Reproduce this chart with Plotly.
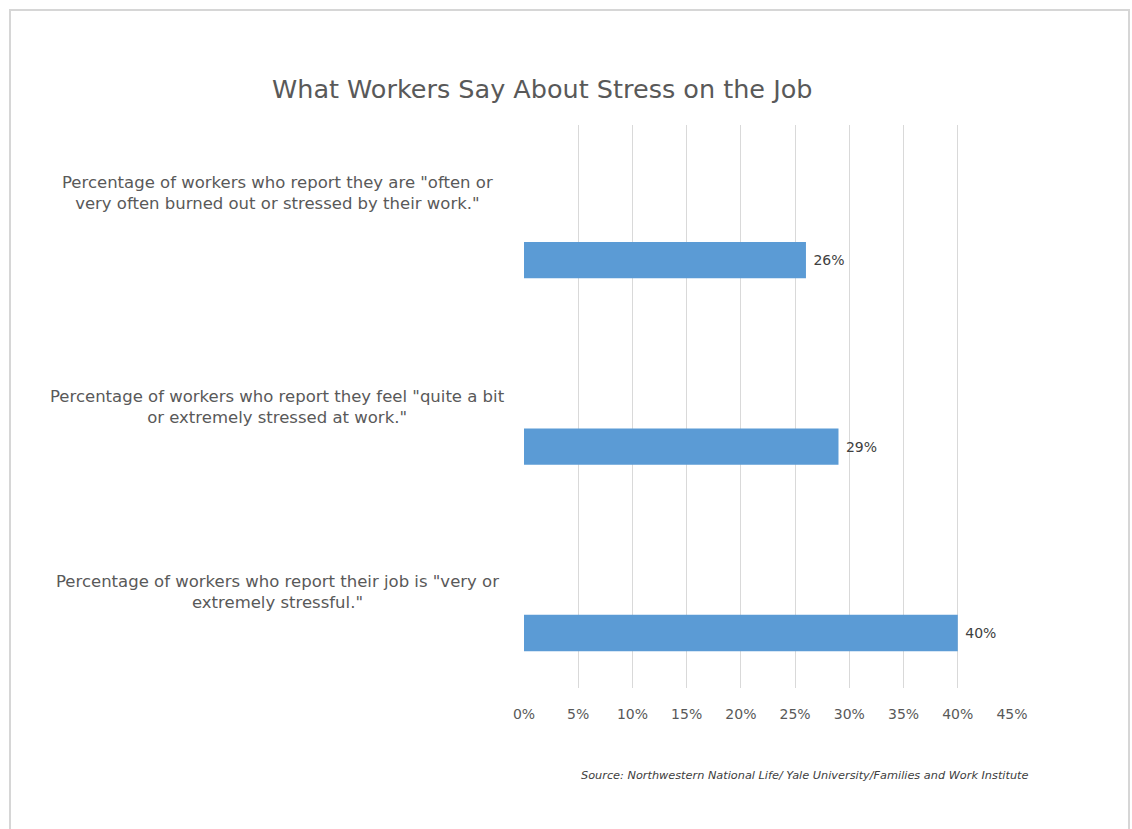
import plotly.graph_objects as go

# ---- data ----
categories = [
    "Percentage of workers who report their job is \"very or<br>extremely stressful.\"",
    "Percentage of workers who report they feel \"quite a bit<br>or extremely stressed at work.\"",
    "Percentage of workers who report they are \"often or<br>very often burned out or stressed by their work.\"",
]
values = [40, 29, 26]
tick_vals = [0, 5, 10, 15, 20, 25, 30, 35, 40, 45]
tick_text = [f"{v}%" for v in tick_vals]
title_text = "What Workers Say About Stress on the Job"
source_text = "Source: Northwestern National Life/ Yale University/Families and Work Institute"

# ---- layout geometry (pixels) ----
W, H = 1132, 829
L, R, T, B = 524, 1012, 125, 688
label_shift = [41, 40, 67]  # px above bar centre for each category label
FONT = "DejaVu Sans"

def px_x(x):
    return (x - L) / (R - L)

def px_y(y):
    return (B - y) / (B - T)

ypos = list(range(len(categories)))

fig = go.Figure()
fig.add_trace(go.Bar(
    x=values, y=ypos, orientation="h",
    marker=dict(color="#5b9bd5", line=dict(width=0)),
    width=0.195,
    text=[f"\u00a0{v}%" for v in values], textposition="outside",
    textfont=dict(family=FONT, size=14, color="#404040"),
    cliponaxis=False,
))

annotations = []
for i, (c, s) in enumerate(zip(categories, label_shift)):
    annotations.append(dict(
        x=px_x(277), xref="paper", y=ypos[i], yref="y", yshift=s,
        text=c, showarrow=False, align="center", xanchor="center", yanchor="middle",
        font=dict(family=FONT, size=16.5, color="#595959"),
    ))
annotations.append(dict(
    x=px_x(542), xref="paper", y=px_y(89), yref="paper",
    text=title_text, showarrow=False, xanchor="center", yanchor="middle",
    font=dict(family=FONT, size=25.5, color="#595959"),
))
annotations.append(dict(
    x=px_x(1031), xref="paper", y=px_y(775), yref="paper",
    text=f"<i>{source_text}</i>", showarrow=False, xanchor="right", yanchor="middle",
    font=dict(family=FONT, size=11.3, color="#404040"),
))

fig.update_layout(
    width=W, height=H,
    margin=dict(l=L, r=W - R, t=T, b=H - B),
    paper_bgcolor="white", plot_bgcolor="white",
    showlegend=False,
    annotations=annotations,
    xaxis=dict(
        range=[0, 45], tickvals=tick_vals, ticktext=tick_text,
        showgrid=True, gridcolor="#d9d9d9", gridwidth=1,
        zeroline=False, showline=False, ticks="",
        tickfont=dict(family=FONT, size=14, color="#595959"),
        ticklabelstandoff=16,
    ),
    yaxis=dict(
        range=[-0.295, 2.725], showticklabels=False, showgrid=False,
        zeroline=False, showline=False, ticks="",
    ),
    shapes=[dict(
        type="rect", xref="paper", yref="paper",
        x0=px_x(10), x1=px_x(1129), y0=px_y(840), y1=px_y(10),
        line=dict(color="#d6d6d6", width=2), layer="below",
    )],
)

fig.write_html("out.html")
